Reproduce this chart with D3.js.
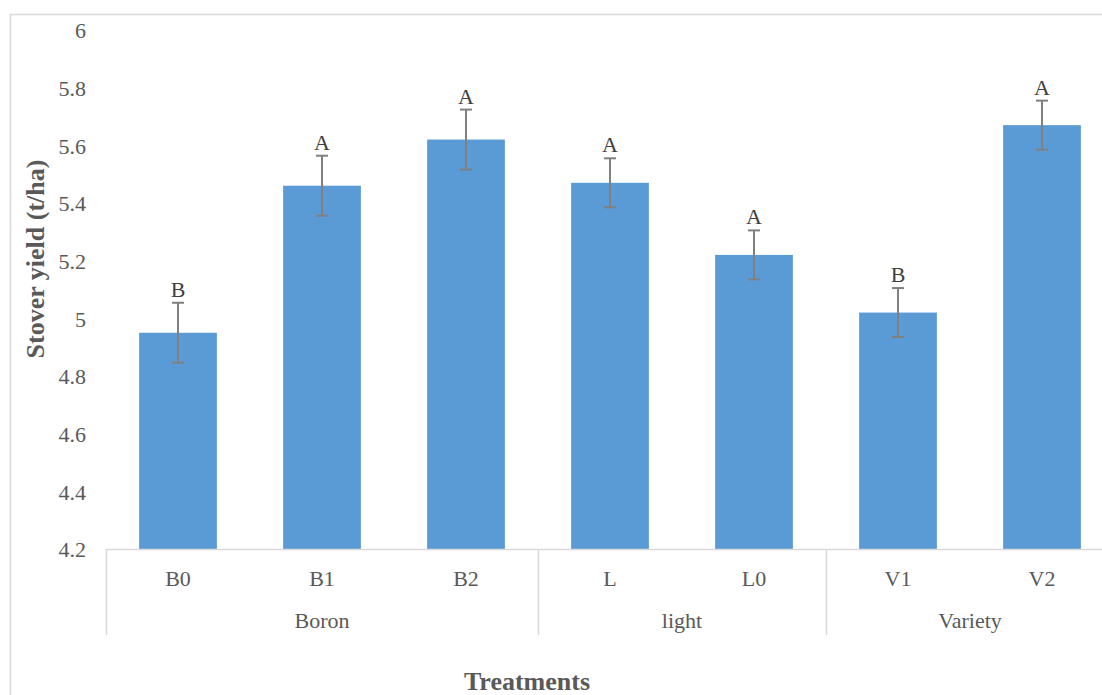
<!DOCTYPE html>
<html>
<head>
<meta charset="utf-8">
<script src="https://cdn.jsdelivr.net/npm/d3@7"></script>
<style>
  html, body { margin: 0; padding: 0; background: #fff; }
  svg { display: block; }
</style>
</head>
<body>
<svg id="chart" width="1102" height="695"></svg>
<script>
// Treatment levels and their group
const categories = ["B0", "B1", "B2", "L", "L0", "V1", "V2"];
const groups = ["Boron", "Boron", "Boron", "light", "light", "Variety", "Variety"];
const groupNames = ["Boron", "light", "Variety"];
// Mean stover yield (t/ha) and error bar half-width
const yieldValues = [4.95, 5.46, 5.62, 5.47, 5.22, 5.02, 5.67];
const errorValues = [0.104, 0.104, 0.104, 0.085, 0.085, 0.085, 0.085];
// Significance letters
const letters = ["B", "A", "A", "A", "A", "B", "A"];
const yTicks = [4.2, 4.4, 4.6, 4.8, 5, 5.2, 5.4, 5.6, 5.8, 6];

const FONT = '"Liberation Serif", "Times New Roman", serif';
const svg = d3.select("#chart").style("font-family", FONT);
const plot = { left: 106, right: 1114, top: 30, bottom: 549 };

const x = d3.scaleBand().domain(categories).range([plot.left, plot.right]).paddingInner(0.46).paddingOuter(0.23);
const y = d3.scaleLinear().domain([4.2, 6]).range([plot.bottom, plot.top]);

// Chart frame
svg.append("rect").attr("x", 10.5).attr("y", 14.5).attr("width", 1200).attr("height", 800)
  .attr("fill", "none").attr("stroke", "#d9d9d9").attr("stroke-width", 1.5);

// Y tick labels
const yAxis = d3.axisLeft(y).tickValues(yTicks).tickSize(0).tickPadding(0)
  .tickFormat(d => d3.format("")(+d.toFixed(1)));
const gy = svg.append("g").attr("transform", `translate(86,0)`).call(yAxis);
gy.attr("font-family", null).attr("font-size", null);
gy.select(".domain").remove();
gy.selectAll("text").style("font-family", FONT).style("font-size", "22px").attr("fill", "#595959").attr("dy", "0.35em");

// Bars
svg.append("g").selectAll("rect").data(categories).join("rect")
  .attr("x", d => x(d)).attr("width", x.bandwidth())
  .attr("y", (d, i) => y(yieldValues[i]))
  .attr("height", (d, i) => y(4.2) - y(yieldValues[i]))
  .attr("fill", "#5b9bd5");

// Error bars
const eb = svg.append("g").attr("stroke", "#808080").attr("stroke-width", 2);
categories.forEach((c, i) => {
  const cx = x(c) + x.bandwidth() / 2;
  const hi = y(yieldValues[i] + errorValues[i]);
  const lo = y(yieldValues[i] - errorValues[i]);
  eb.append("line").attr("x1", cx).attr("x2", cx).attr("y1", hi).attr("y2", lo);
  eb.append("line").attr("x1", cx - 6).attr("x2", cx + 6).attr("y1", hi).attr("y2", hi);
  eb.append("line").attr("x1", cx - 6).attr("x2", cx + 6).attr("y1", lo).attr("y2", lo);
});

// Significance letters
svg.append("g").selectAll("text").data(categories).join("text")
  .attr("x", d => x(d) + x.bandwidth() / 2)
  .attr("y", (d, i) => y(yieldValues[i] + errorValues[i]) - 6)
  .attr("text-anchor", "middle").style("font-family", FONT).style("font-size", "22px").attr("fill", "#404040")
  .text((d, i) => letters[i]);

// Category axis line
svg.append("line").attr("x1", plot.left).attr("x2", 1102).attr("y1", plot.bottom + 0.5).attr("y2", plot.bottom + 0.5)
  .attr("stroke", "#d9d9d9").attr("stroke-width", 1.5);

// Category labels
svg.append("g").selectAll("text").data(categories).join("text")
  .attr("x", d => x(d) + x.bandwidth() / 2).attr("y", 578).attr("dy", "0.35em")
  .attr("text-anchor", "middle").style("font-family", FONT).style("font-size", "22px").attr("fill", "#595959")
  .text(d => d);

// Group separators and labels
const step = x.step();
groupNames.forEach(g => {
  const members = categories.filter((c, i) => groups[i] === g);
  const x0 = x(members[0]) + x.bandwidth() / 2 - step / 2;
  const x1 = x(members[members.length - 1]) + x.bandwidth() / 2 + step / 2;
  svg.append("line").attr("x1", x0 + 0.5).attr("x2", x0 + 0.5).attr("y1", plot.bottom).attr("y2", 635)
    .attr("stroke", "#d9d9d9").attr("stroke-width", 1.5);
  svg.append("text").attr("x", (x0 + x1) / 2).attr("y", 620).attr("dy", "0.35em")
    .attr("text-anchor", "middle").style("font-family", FONT).style("font-size", "22px").attr("fill", "#595959").text(g);
});

// Axis titles
svg.append("text").attr("x", 527).attr("y", 690)
  .attr("text-anchor", "middle").style("font-family", FONT).style("font-size", "26px").attr("font-weight", "bold").attr("fill", "#595959")
  .text("Treatments");
svg.append("text").attr("transform", "translate(35,259) rotate(-90)").attr("dy", "0.35em")
  .attr("text-anchor", "middle").style("font-family", FONT).style("font-size", "26px").attr("font-weight", "bold").attr("fill", "#595959")
  .text("Stover yield (t/ha)");
</script>
</body>
</html>
